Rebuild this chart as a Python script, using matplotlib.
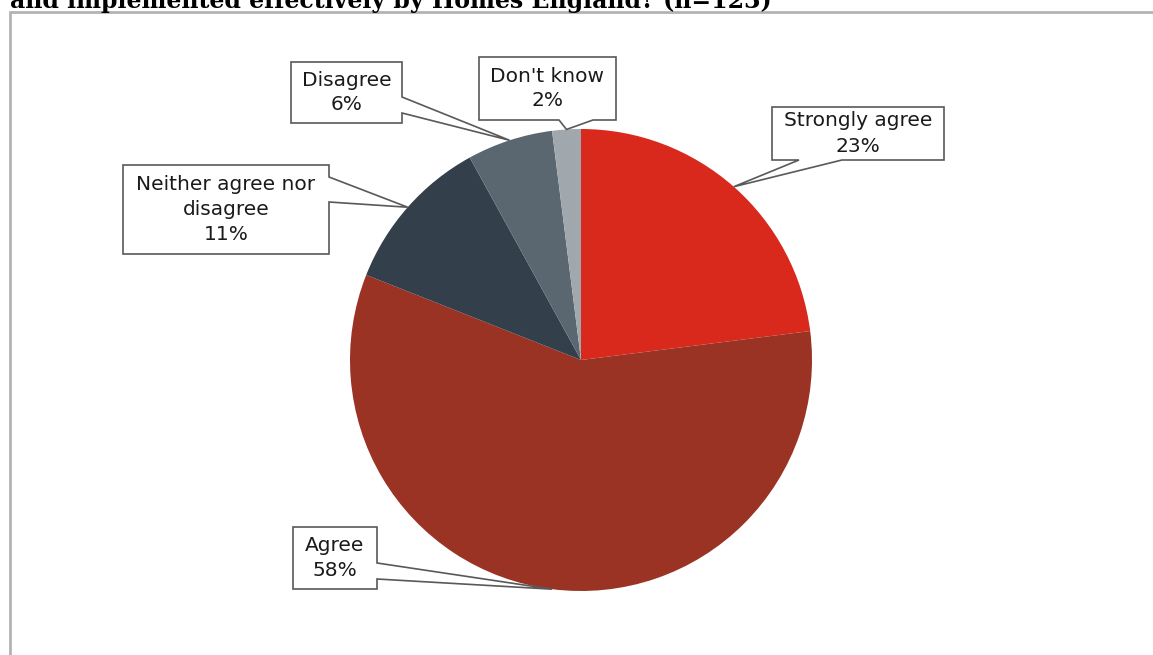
import numpy as np
import matplotlib
matplotlib.use("Agg")
import matplotlib.pyplot as plt
from matplotlib.patches import Polygon, Rectangle

# survey answers, clockwise from 12 o'clock
categorias = ["Strongly agree", "Agree", "Neither agree nor\ndisagree", "Disagree", "Don't know"]
percentuais = [23, 58, 11, 6, 2]
cores = ["#D9291C", "#9A3324", "#333F4A", "#5A6770", "#A0A8AE"]

titulo = "and implemented effectively by Homes England? (n=123)"

W, H = 1153, 655
centro = (581, H - 360)
raio = 231

fig = plt.figure(figsize=(W / 100, H / 100), dpi=100)
ax = fig.add_axes([0, 0, 1, 1])

ax.pie(percentuais, colors=cores, startangle=90, counterclock=False,
       center=centro, radius=raio, wedgeprops=dict(linewidth=0))
ax.set_xlim(0, W)
ax.set_ylim(0, H)
ax.set_aspect("auto")
ax.axis("off")

# outer chart frame
ax.add_patch(Rectangle((9.5, -20), W + 20, H - 11.5 + 20, fill=False,
                       edgecolor="#B3B3B3", linewidth=2, clip_on=False))

fig.text(10 / W, 1 - 8 / H, titulo, fontsize=17, fontweight="bold",
         family="DejaVu Serif", ha="left", va="baseline")

# callout boxes: (left, top, right, bottom) in pixels from top-left,
# the edge the pointer leaves from, and where the pointer meets that edge
caixas = [
    ((772, 107, 944, 160), "bottom", (799, 842)),
    ((293, 527, 377, 589), "right", (563, 579)),
    ((123, 165, 329, 254), "right", (177, 202)),
    ((291, 62, 402, 123), "right", (97, 113)),
    ((479, 57, 616, 120), "bottom", (559, 593)),
]

total = sum(percentuais)
acum = 0
for nome, pct, (caixa, lado, base) in zip(categorias, percentuais, caixas):
    meio = 90 - 360 * (acum + pct / 2) / total
    acum += pct
    ponta = (centro[0] + raio * np.cos(np.radians(meio)),
             centro[1] + raio * np.sin(np.radians(meio)))

    L, T, R, B = caixa
    T, B = H - T, H - B
    if lado == "right":
        a, b = H - base[0], H - base[1]
        verts = [(L, T), (R, T), (R, a), ponta, (R, b), (R, B), (L, B)]
    else:
        a, b = base
        verts = [(L, T), (R, T), (R, B), (b, B), ponta, (a, B), (L, B)]
    ax.add_patch(Polygon(verts, closed=True, facecolor="white",
                         edgecolor="#595959", linewidth=1.2, zorder=3))
    ax.text((L + R) / 2, (T + B) / 2, f"{nome}\n{pct}%", ha="center",
            va="center", fontsize=14.5, color="#1A1A1A", zorder=4,
            linespacing=1.4)

fig.savefig("out.png", dpi=100)
